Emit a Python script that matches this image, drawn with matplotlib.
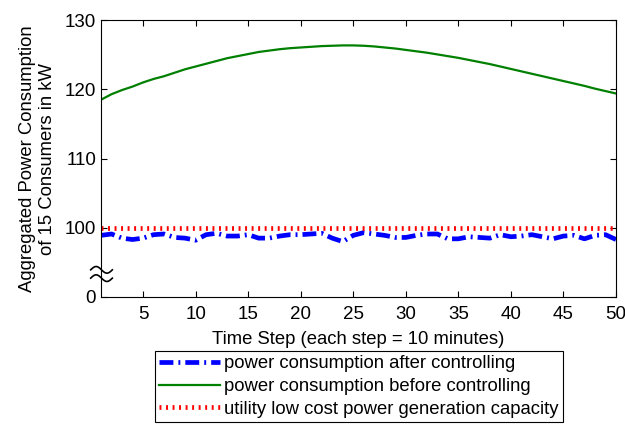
import numpy as np
import matplotlib
matplotlib.use('Agg')
import matplotlib.pyplot as plt

plt.rcParams['font.family'] = ['Liberation Sans', 'DejaVu Sans']
plt.rcParams['lines.scale_dashes'] = False

# time steps (each step = 10 minutes)
steps = list(range(1, 51))

# power consumption before controlling (kW)
before = [118.5, 119.3, 119.9, 120.4, 121.0, 121.5, 121.9, 122.4, 122.9, 123.3,
          123.7, 124.1, 124.5, 124.8, 125.1, 125.4, 125.6, 125.8, 125.95, 126.05,
          126.15, 126.25, 126.3, 126.35, 126.35, 126.3, 126.2, 126.05, 125.9, 125.7,
          125.5, 125.3, 125.05, 124.8, 124.55, 124.25, 123.95, 123.65, 123.3, 122.95,
          122.6, 122.25, 121.9, 121.55, 121.2, 120.85, 120.5, 120.1, 119.75, 119.4]

# power consumption after controlling (kW)
after = [98.9, 99.1, 98.5, 98.3, 98.5, 99.0, 99.1, 98.6, 98.5, 98.2,
         99.0, 99.2, 98.8, 98.8, 99.0, 98.5, 98.5, 98.8, 99.0, 99.0,
         99.1, 99.2, 98.5, 98.0, 98.9, 99.3, 99.1, 98.9, 98.6, 98.6,
         98.9, 99.1, 99.1, 98.4, 98.4, 98.7, 98.6, 98.5, 99.0, 98.7,
         98.8, 99.0, 98.7, 98.4, 98.8, 98.9, 98.4, 98.9, 99.0, 98.3]

capacity = 100

yticks = [90, 100, 110, 120, 130]
ytick_labels = ['0', '100', '110', '120', '130']
xticks = [5, 10, 15, 20, 25, 30, 35, 40, 45, 50]

fig = plt.figure(figsize=(6.25, 4.38), dpi=100)
ax = fig.add_axes([0.1616, 0.322, 0.824, 0.632])

ax.plot(steps, after, color='#0000ff', linewidth=3.4, dashes=(10, 3.6, 1.4, 3.6),
        solid_capstyle='butt', dash_capstyle='butt',
        label='power consumption after controlling')
ax.plot(steps, before, color='#008000', linewidth=1.6,
        label='power consumption before controlling')
ax.plot(steps, [capacity] * len(steps), color='#ff0000', linewidth=3.4,
        dashes=(1.4, 3.3), dash_capstyle='butt',
        label='utility low cost power generation capacity')

ax.set_xlim(1, 50)
ax.set_ylim(90, 130)
ax.set_xticks(xticks)
ax.set_yticks(yticks)
ax.set_yticklabels(ytick_labels)
ax.tick_params(direction='in', top=True, right=True, labelsize=13.5, length=4,
               width=0.8)
ax.tick_params(axis='x', pad=6.5)
ax.tick_params(axis='y', pad=3.5)
for s in ax.spines.values():
    s.set_linewidth(0.8)

# break mark on the y axis
t = np.linspace(0, 1, 30)
for y0 in (0.098, 0.068):
    ax.plot(-0.02 + 0.042 * t, y0 + 0.012 * np.sin(2 * np.pi * t), color='black',
            linewidth=1.2, transform=ax.transAxes, clip_on=False)

ax.set_xlabel('Time Step (each step = 10 minutes)', fontsize=13.3, labelpad=6)
ax.set_ylabel('Aggregated Power Consumption\nof 15 Consumers in kW', fontsize=13.3,
              labelpad=6, multialignment='center', linespacing=1.3)

leg = fig.legend(loc='upper center', bbox_to_anchor=(0.574, 0.199), fontsize=13.3,
                 fancybox=False, edgecolor='black', framealpha=1, handlelength=3.3,
                 handletextpad=0.2, borderpad=0.25, labelspacing=0.3,
                 borderaxespad=0)
leg.get_frame().set_linewidth(0.8)

fig.savefig('out.png', dpi=100)
